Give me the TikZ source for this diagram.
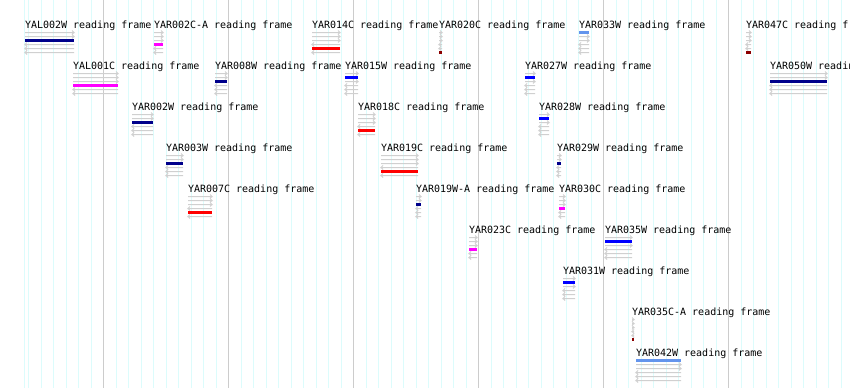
\documentclass[tikz,border=0pt]{standalone}
\usepackage{fontspec}
\newfontfamily\lblfont{DejaVu Sans Mono}
\definecolor{rfc1}{HTML}{6495ED}
\definecolor{rfc2}{HTML}{0000FF}
\definecolor{rfc3}{HTML}{00008B}
\definecolor{rfc4}{HTML}{FF00FF}
\definecolor{rfc5}{HTML}{FF0000}
\definecolor{rfc6}{HTML}{8B0000}
\definecolor{minorgrid}{HTML}{DCFCFC}
\definecolor{majorgrid}{HTML}{CCCCCC}
\definecolor{framegray}{HTML}{D0D0D0}
\tikzset{
  lbl/.style={anchor=base west,inner sep=0pt,outer sep=0pt,font=\lblfont\fontsize{10pt}{12pt}\selectfont,text=black},
  rfline/.style={draw=framegray,line width=1pt,line cap=butt,line join=miter},
  mingrid/.style={draw=minorgrid,line width=1pt},
  majgrid/.style={draw=majorgrid,line width=1pt},
}
% #1 name, #2 x1, #3 x2, #4 row, #5 frame holding the bar, #6 label text
\newcommand{\rfglyph}[6]{%
  \pgfmathsetmacro\rfbase{32+41*(#4-1)}%
  \node[lbl] (#1) at (#2,\rfbase-4) {#6};%
  \foreach \f in {1,...,6}{%
    \pgfmathsetmacro\yy{\rfbase+4*(\f-1)}%
    \ifnum\f=#5\relax
      \fill[rfc\f] (#2,\yy-1) rectangle (#3,\yy+2);%
    \else
      \ifnum\f<4\relax
        \draw[rfline] (#2,\yy+0.5) -- (#3,\yy+0.5) -- ++(-2,-2) (#3,\yy+0.5) -- ++(-2,2);%
      \else
        \draw[rfline] (#3,\yy+0.5) -- (#2,\yy+0.5) -- ++(2,-2) (#2,\yy+0.5) -- ++(2,2);%
      \fi
    \fi
  }%
}
\begin{document}
\begin{tikzpicture}[x=1pt,y=-1pt]
\fill[white] (0,0) rectangle (850,388);
\useasboundingbox (0,0) rectangle (850,388);
% grid
\draw[mingrid] (24.5,0) -- (24.5,388);
\foreach \k in {0,...,65}{
  \pgfmathsetmacro\gx{floor(28.5+12.5*\k)+0.5}
  \draw[mingrid] (\gx,0) -- (\gx,388);
}
\foreach \j in {0,...,5}{
  \pgfmathsetmacro\gx{103.5+125*\j}
  \draw[majgrid] (\gx,0) -- (\gx,388);
}
% row 1
\rfglyph{yal002w}{25}{74}{1}{3}{YAL002W reading frame}
\rfglyph{yar002ca}{154}{163}{1}{4}{YAR002C-A reading frame}
\rfglyph{yar014c}{312}{340}{1}{5}{YAR014C reading frame}
\rfglyph{yar020c}{439}{442}{1}{6}{YAR020C reading frame}
\rfglyph{yar033w}{579}{589}{1}{1}{YAR033W reading frame}
\rfglyph{yar047c}{746}{751}{1}{6}{YAR047C reading frame}
% row 2
\rfglyph{yal001c}{73}{118}{2}{4}{YAL001C reading frame}
\rfglyph{yar008w}{215}{227}{2}{3}{YAR008W reading frame}
\rfglyph{yar015w}{345}{358}{2}{2}{YAR015W reading frame}
\rfglyph{yar027w}{525}{535}{2}{2}{YAR027W reading frame}
\rfglyph{yar050w}{770}{827}{2}{3}{YAR050W reading frame}
% row 3
\rfglyph{yar002w}{132}{153}{3}{3}{YAR002W reading frame}
\rfglyph{yar018c}{358}{375}{3}{5}{YAR018C reading frame}
\rfglyph{yar028w}{539}{549}{3}{2}{YAR028W reading frame}
% row 4
\rfglyph{yar003w}{166}{183}{4}{3}{YAR003W reading frame}
\rfglyph{yar019c}{381}{418}{4}{5}{YAR019C reading frame}
\rfglyph{yar029w}{557}{561}{4}{3}{YAR029W reading frame}
% row 5
\rfglyph{yar007c}{188}{212}{5}{5}{YAR007C reading frame}
\rfglyph{yar019wa}{416}{421}{5}{3}{YAR019W-A reading frame}
\rfglyph{yar030c}{559}{565}{5}{4}{YAR030C reading frame}
% row 6
\rfglyph{yar023c}{469}{477}{6}{4}{YAR023C reading frame}
\rfglyph{yar035w}{605}{632}{6}{2}{YAR035W reading frame}
% row 7
\rfglyph{yar031w}{563}{575}{7}{2}{YAR031W reading frame}
% row 8
\rfglyph{yar035ca}{632}{634}{8}{6}{YAR035C-A reading frame}
% row 9
\rfglyph{yar042w}{636}{681}{9}{1}{YAR042W reading frame}
\end{tikzpicture}
\end{document}
